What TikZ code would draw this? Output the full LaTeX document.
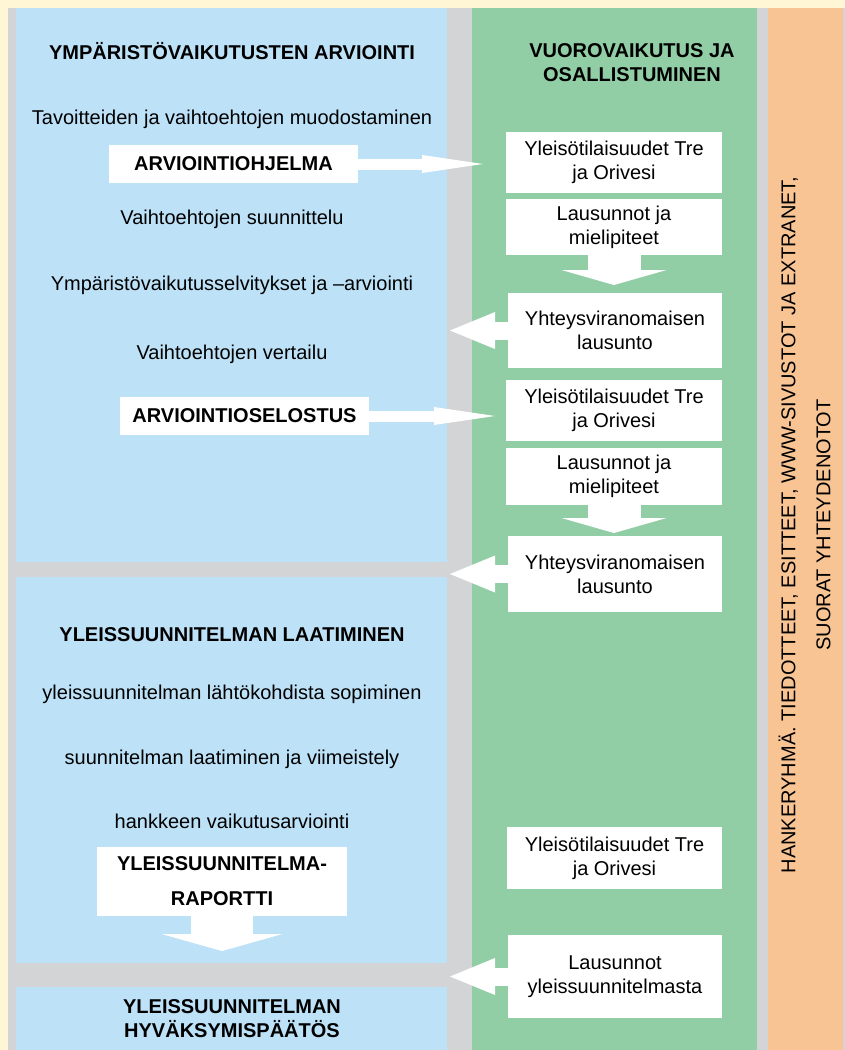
\documentclass[tikz,border=0pt]{standalone}
\usepackage{fontspec}
\setmainfont{Liberation Sans}
\usepackage{tikz}
\usetikzlibrary{arrows.meta,positioning}

\definecolor{paper}{RGB}{255,246,214}
\definecolor{gap}{RGB}{211,212,214}
\definecolor{skyblue}{RGB}{189,225,247}
\definecolor{mint}{RGB}{145,205,165}
\definecolor{peach}{RGB}{248,196,148}

\begin{document}
\begin{tikzpicture}[x=1pt,y=-1pt,
    font=\fontsize{20}{24}\selectfont,
    txt/.style={anchor=base,align=center,inner sep=0pt},
    hdr/.style={txt,font=\fontsize{20}{24}\selectfont\bfseries},
    wbox/.style={fill=white,align=center,inner sep=0pt,minimum width=216pt},
    doc/.style={fill=white,align=center,inner sep=0pt,minimum width=249pt,
                minimum height=38pt,font=\fontsize{20}{24}\selectfont\bfseries},
    rarrow/.style={draw=white,line width=11pt,
                   -{Triangle[length=61pt,width=18pt,line width=0pt]}},
    larrow/.style={draw=white,line width=18pt,
                   -{Triangle[length=45pt,width=37pt,line width=0pt]}},
    darrow/.style={draw=white,line width=53pt,
                   -{Triangle[length=15pt,width=105pt,line width=0pt]}}]
    \useasboundingbox (0,0) rectangle (845,1050);
    % background columns
    \fill[paper] (0,0) rectangle (845,1050);
    \fill[gap] (8,8) rectangle (845,1050);
    \fill[skyblue] (16,8) rectangle (447,562);
    \fill[skyblue] (16,577) rectangle (447,963);
    \fill[skyblue] (16,987) rectangle (447,1050);
    \fill[mint] (472,8) rectangle (757,1050);
    \fill[peach] (768,8) rectangle (843,1050);

    % arviointi
    \node[hdr] (yva) at (232,59) {YMPÄRISTÖVAIKUTUSTEN ARVIOINTI};
    \node[txt] (tav) at (232,124) {Tavoitteiden ja vaihtoehtojen muodostaminen};
    \node[doc] (ohjelma) at (233.5,164) {ARVIOINTIOHJELMA};
    \node[txt] (suun) at (232,224) {Vaihtoehtojen suunnittelu};
    \node[txt] (selv) at (232,290) {Ympäristövaikutusselvitykset ja –arviointi};
    \node[txt] (vert) at (232,359) {Vaihtoehtojen vertailu};
    \node[doc] (selostus) at (244.5,416) {ARVIOINTIOSELOSTUS};

    % yleissuunnitelma
    \node[hdr] (ys) at (232,641) {YLEISSUUNNITELMAN LAATIMINEN};
    \node[txt] (lahto) at (232,699) {yleissuunnitelman lähtökohdista sopiminen};
    \node[txt] (laat) at (232,764) {suunnitelman laatiminen ja viimeistely};
    \node[txt] (hank) at (232,828) {hankkeen vaikutusarviointi};
    \node[doc,minimum width=250pt,minimum height=69pt,
          font=\fontsize{20}{35}\selectfont\bfseries] (raportti) at (222,881.5)
          {YLEISSUUNNITELMA-\\RAPORTTI};
    \node[hdr] (paatos) at (232,1037) {YLEISSUUNNITELMAN\\HYVÄKSYMISPÄÄTÖS};

    % vuorovaikutus
    \node[hdr] (vv) at (632,81) {VUOROVAIKUTUS JA\\OSALLISTUMINEN};
    \node[wbox,minimum height=61pt] (tila1) at (614,162.5) {Yleisötilaisuudet Tre\\ja Orivesi};
    \node[wbox,minimum height=56pt] (laus1) at (614,227) {Lausunnot ja\\mielipiteet};
    \node[wbox,minimum height=75pt,minimum width=214pt] (yht1) at (615,330.5) {Yhteysviranomaisen\\lausunto};
    \node[wbox,minimum height=61pt] (tila2) at (614,410.5) {Yleisötilaisuudet Tre\\ja Orivesi};
    \node[wbox,minimum height=57pt] (laus2) at (614,476.5) {Lausunnot ja\\mielipiteet};
    \node[wbox,minimum height=76pt,minimum width=214pt] (yht2) at (615,574) {Yhteysviranomaisen\\lausunto};
    \node[wbox,minimum height=62pt,minimum width=215pt] (tila3) at (614.5,858) {Yleisötilaisuudet Tre\\ja Orivesi};
    \node[wbox,minimum height=83pt,minimum width=214pt] (laus3) at (615,976.5) {Lausunnot\\yleissuunnitelmasta};

    % tiedotus
    \node[txt,anchor=center,rotate=90,font=\fontsize{20}{35}\selectfont] (tied) at (804.5,525)
          {HANKERYHMÄ. TIEDOTTEET, ESITTEET, WWW-SIVUSTOT JA EXTRANET,\\SUORAT YHTEYDENOTOT};

    % arrow tips
    \coordinate (ohjtip) at (483,164);
    \coordinate (seltip) at (495,416);
    \coordinate (laus1tip) at (614,285);
    \coordinate (laus2tip) at (614,533);
    \coordinate (yht1tip) at (450,330.5);
    \coordinate (yht2tip) at (450,574);
    \coordinate (laus3tip) at (450,976.5);
    \coordinate (raptip) at (222,951);

    \path (ohjelma) edge[rarrow] (ohjtip)
          (selostus) edge[rarrow] (seltip)
          (laus1) edge[darrow] (laus1tip)
          (laus2) edge[darrow] (laus2tip)
          (yht1) edge[larrow] (yht1tip)
          (yht2) edge[larrow] (yht2tip)
          (laus3) edge[larrow] (laus3tip)
          (raportti) edge[darrow,line width=62pt,
                          -{Triangle[length=17pt,width=121pt,line width=0pt]}] (raptip);
\end{tikzpicture}
\end{document}
